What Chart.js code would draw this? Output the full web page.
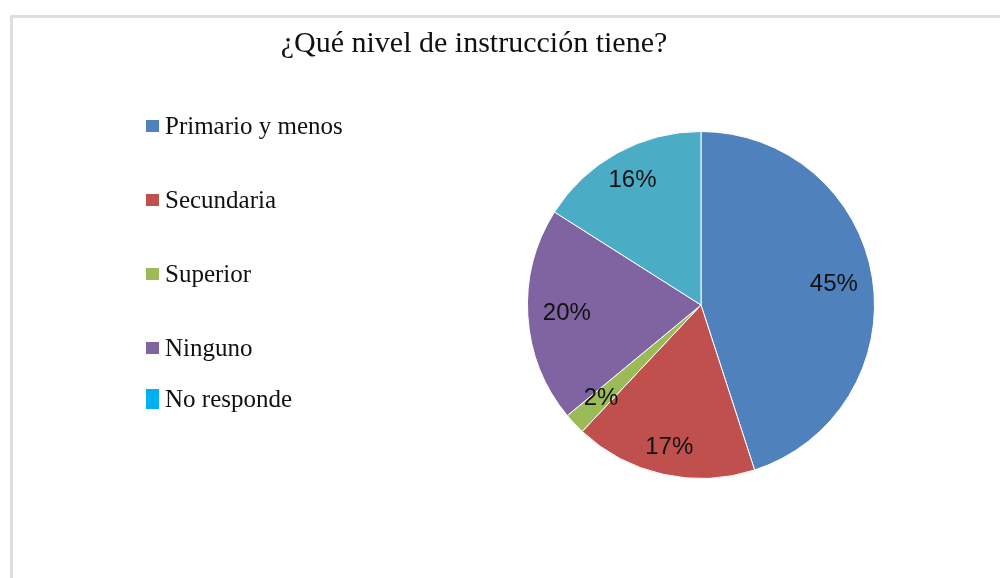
<!DOCTYPE html>
<html>
<head>
<meta charset="utf-8">
<script src="https://cdn.jsdelivr.net/npm/chart.js@4"></script>
<style>
  html, body { margin: 0; padding: 0; background: #fff; }
  #wrap { width: 1000px; height: 578px; position: relative; }
</style>
</head>
<body>
<div id="wrap"><canvas id="chartCanvas" width="1000" height="578"></canvas></div>
<script>
const chartTitle = "¿Qué nivel de instrucción tiene?";
const categories = ["Primario y menos", "Secundaria", "Superior", "Ninguno", "No responde"];
const percentages = [45, 17, 2, 20, 16];
const sliceColors = ["#4F81BD", "#C0504D", "#9BBB59", "#8064A2", "#4BACC6"];
const legendMarkerColors = ["#4F81BD", "#C0504D", "#9BBB59", "#8064A2", "#00B0F0"];

// frame, title and the hand placed legend of the original
const decorPlugin = {
  id: 'decor',
  beforeDraw(chart) {
    const c = chart.ctx;
    c.save();
    c.fillStyle = '#dedede';
    c.fillRect(10, 15, 3, 563);
    c.fillRect(10, 15, 990, 3);
    c.fillStyle = '#111';
    c.font = '30px "Liberation Serif"';
    c.textAlign = 'center';
    c.textBaseline = 'alphabetic';
    c.fillText(chartTitle, 474, 52);
    c.restore();
  },
  afterDraw(chart, args, opts) {
    const c = chart.ctx;
    c.save();
    c.font = '25px "Liberation Serif"';
    c.textAlign = 'left';
    c.textBaseline = 'alphabetic';
    chart.data.labels.forEach((lbl, i) => {
      const y = opts.rows[i];
      const h = i === chart.data.labels.length - 1 ? 20 : 12;
      c.fillStyle = legendMarkerColors[i];
      c.fillRect(146, y - h / 2, 13, h);
      c.fillStyle = '#111';
      c.fillText(lbl, 165, y + 8);
    });
    c.restore();
  }
};

const pctLabels = {
  id: 'pctLabels',
  afterDatasetsDraw(chart, args, opts) {
    const c = chart.ctx;
    const meta = chart.getDatasetMeta(0);
    c.save();
    c.font = '24px "Liberation Sans"';
    c.fillStyle = '#111';
    c.textAlign = 'center';
    c.textBaseline = 'middle';
    meta.data.forEach((arc, i) => {
      const p = arc.getProps(['x', 'y', 'startAngle', 'endAngle', 'outerRadius'], true);
      const mid = (p.startAngle + p.endAngle) / 2;
      const r = p.outerRadius * opts.dist[i];
      c.fillText(chart.data.datasets[0].data[i] + '%', p.x + Math.cos(mid) * r, p.y + Math.sin(mid) * r);
    });
    c.restore();
  }
};

const ctx = document.getElementById('chartCanvas').getContext('2d');
new Chart(ctx, {
  type: 'pie',
  data: {
    labels: categories,
    datasets: [{
      data: percentages,
      backgroundColor: sliceColors,
      borderColor: '#ffffff',
      borderWidth: 1
    }]
  },
  options: {
    responsive: false,
    animation: false,
    layout: { padding: { top: 131, bottom: 99, left: 527, right: 125 } },
    plugins: {
      legend: { display: false },
      title: { display: false },
      tooltip: { enabled: false },
      decor: { rows: [126, 200, 274, 348, 399] },
      pctLabels: { dist: [0.775, 0.84, 0.79, 0.775, 0.82] }
    }
  },
  plugins: [decorPlugin, pctLabels]
});
</script>
</body>
</html>
